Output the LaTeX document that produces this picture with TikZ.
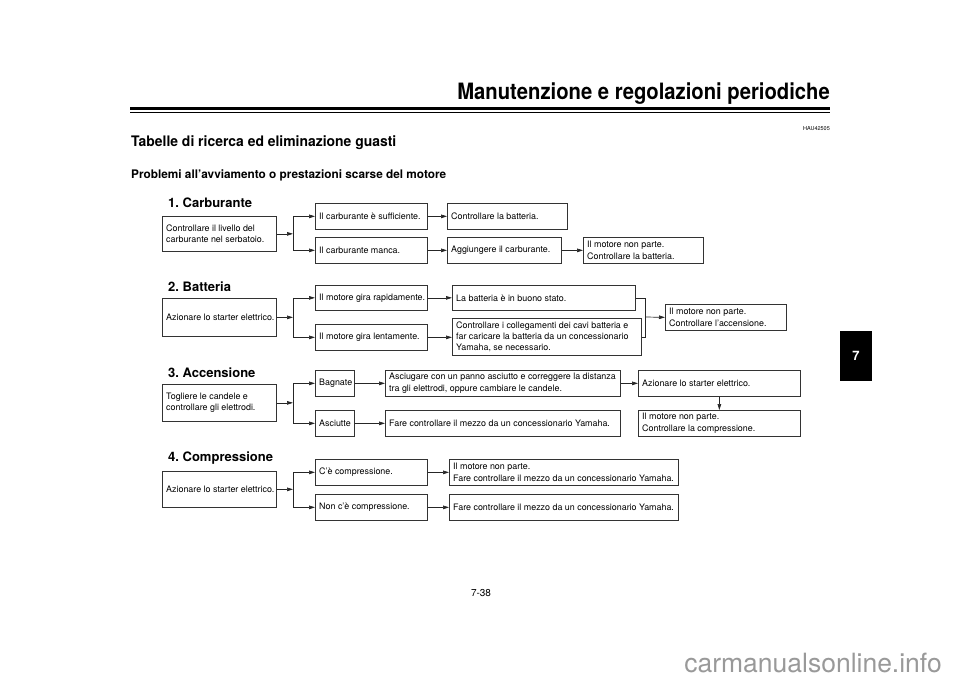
\documentclass[tikz,border=0pt]{standalone}
\usepackage{fontspec}
\setmainfont{TeX Gyre Heros}
\usetikzlibrary{arrows.meta}
\frenchspacing
\newcommand\mybox[6]{%
  \pgfmathsetmacro\bw{#4-#2}\pgfmathsetmacro\bh{#5-#3}%
  \node[box, minimum width=\bw pt, minimum height=\bh pt] (#1) at (#2,#3) {};
  \node[boxtext] (#1t) at ([xshift=4pt]#1.west) {#6};}
\begin{document}
\begin{tikzpicture}[x=1pt,y=-1pt,
  box/.style={draw=black!80, line width=0.7pt, inner sep=0pt, anchor=north west},
  boxtext/.style={anchor=west, inner sep=0pt, align=left, font=\fontsize{8.9}{11.3}\selectfont},
  arr/.style={draw=black!85, line width=0.7pt, -{Triangle[length=6pt,width=3.6pt]}},
  ln/.style={draw=black!85, line width=0.7pt},
  head/.style={anchor=west, inner sep=0pt, font=\bfseries\fontsize{13}{13}\selectfont}]
\useasboundingbox (0,0) rectangle (960,679);
\fill[white] (0,0) rectangle (960,679);
% header
\node[anchor=south east, inner sep=0pt, font=\bfseries\fontsize{22.5}{22}\selectfont] (title) at (830,104.5) {\scalebox{0.9}[1]{Manutenzione e regolazioni periodiche}};
\draw[line width=2.2pt] (130,108.5) -- (830,108.5);
\draw[line width=0.7pt] (130,112.5) -- (830,112.5);
\node[anchor=east, inner sep=0pt, font=\fontsize{5.5}{6}\selectfont] (code) at (830,129) {HAU42505};
\node[anchor=west, inner sep=0pt, font=\bfseries\fontsize{14.5}{14}\selectfont] (t1) at (131,143) {\scalebox{0.96}[1]{Tabelle di ricerca ed eliminazione guasti}};
\node[anchor=west, inner sep=0pt, font=\bfseries\fontsize{11.8}{12}\selectfont] (t2) at (131,175) {Problemi all’avviamento o prestazioni scarse del motore};
% section 1
\node[head] (h1) at (168,203) {1. Carburante};
\mybox{A1}{162}{216}{276}{251}{Controllare il livello del\\carburante nel serbatoio.}
\mybox{B1}{315}{203}{427}{229}{Il carburante è sufficiente.}
\mybox{B2}{315}{237}{427}{263}{Il carburante manca.}
\mybox{C1}{447}{203}{567}{229}{Controllare la batteria.}
\mybox{C2}{447}{237}{561}{263}{Aggiungere il carburante.}
\mybox{D2}{583}{237}{703}{263}{Il motore non parte.\\Controllare la batteria.}
\coordinate (J1) at (293,233.5);
\draw[arr] (A1.east) -- (A1.east -| J1);
\draw[ln] (B1.west -| J1) -- (B2.west -| J1);
\draw[arr] (B1.west -| J1) -- (B1.west);
\draw[arr] (B2.west -| J1) -- (B2.west);
\draw[arr] (B1.east) -- (C1.west);
\draw[arr] (B2.east) -- (C2.west);
\draw[arr] (C2.east) -- (D2.west);
% section 2
\node[head] (h2) at (168,287) {2. Batteria};
\mybox{A2}{162}{298}{276}{336}{Azionare lo starter elettrico.}
\mybox{B3}{315}{285}{427}{310}{Il motore gira rapidamente.}
\mybox{B4}{315}{324}{427}{350}{Il motore gira lentamente.}
\mybox{C3}{452}{285}{635}{310}{La batteria è in buono stato.}
\mybox{C4}{452}{318}{641}{355}{Controllare i collegamenti dei cavi batteria e\\far caricare la batteria da un concessionario\\Yamaha, se necessario.}
\mybox{D3}{665}{304}{786}{330}{Il motore non parte.\\Controllare l’accensione.}
\coordinate (J2) at (293,317);
\draw[arr] (A2.east) -- (A2.east -| J2);
\draw[ln] (B3.west -| J2) -- (B4.west -| J2);
\draw[arr] (B3.west -| J2) -- (B3.west);
\draw[arr] (B4.west -| J2) -- (B4.west);
\draw[arr] (B3.east) -- (C3.west);
\draw[arr] (B4.east) -- (B4.east -| C4.west);
\coordinate (K2) at (645,317);
\draw[ln] (C3.east) -- (C3.east -| K2) -- (C4.east -| K2) -- (C4.east);
\draw[arr] (K2) -- (D3.west);
% section 3
\node[head] (h3) at (168,373) {3. Accensione};
\mybox{A3}{162}{384}{276}{421}{Togliere le candele e\\controllare gli elettrodi.}
\mybox{B5}{315}{370}{354}{396}{Bagnate}
\mybox{B6}{315}{410}{354}{436}{Asciutte}
\mybox{C5}{385}{370}{620}{396}{Asciugare con un panno asciutto e correggere la distanza\\tra gli elettrodi, oppure cambiare le candele.}
\mybox{C6}{385}{410}{620}{436}{Fare controllare il mezzo da un concessionario Yamaha.}
\mybox{D5}{638}{370}{800}{396}{Azionare lo starter elettrico.}
\mybox{E5}{638}{410}{800}{436}{Il motore non parte.\\Controllare la compressione.}
\coordinate (J3) at (293,403);
\draw[arr] (A3.east) -- (A3.east -| J3);
\draw[ln] (B5.west -| J3) -- (B6.west -| J3);
\draw[arr] (B5.west -| J3) -- (B5.west);
\draw[arr] (B6.west -| J3) -- (B6.west);
\draw[arr] (B5.east) -- (C5.west);
\draw[arr] (B6.east) -- (C6.west);
\draw[arr] (C5.east) -- (D5.west);
\draw[arr] (D5.south) -- (E5.north);
% section 4
\node[head] (h4) at (168,458) {4. Compressione};
\mybox{A4}{162}{471}{276}{507}{Azionare lo starter elettrico.}
\mybox{B7}{315}{459}{427}{485}{C’è compressione.}
\mybox{B8}{315}{494}{427}{520}{Non c’è compressione.}
\mybox{C7}{449}{459}{678}{485}{Il motore non parte.\\Fare controllare il mezzo da un concessionario Yamaha.}
\mybox{C8}{449}{494}{678}{520}{Fare controllare il mezzo da un concessionario Yamaha.}
\coordinate (J4) at (293,489);
\draw[arr] (A4.east) -- (A4.east -| J4);
\draw[ln] (B7.west -| J4) -- (B8.west -| J4);
\draw[arr] (B7.west -| J4) -- (B7.west);
\draw[arr] (B8.west -| J4) -- (B8.west);
\draw[arr] (B7.east) -- (C7.west);
\draw[arr] (B8.east) -- (C8.west);
% tab and page number
\fill[black] (840,331) rectangle (872,381);
\node[white, inner sep=0pt, font=\bfseries\fontsize{13}{13}\selectfont] (tab) at (856,356) {7};
\node[inner sep=0pt, font=\fontsize{10}{10}\selectfont] (pg) at (481,593) {7-38};
\node[anchor=east, inner sep=0pt, text=black!40, font=\fontsize{26.5}{27}\selectfont] (wm) at (942,663) {carmanualsonline.info};
\end{tikzpicture}
\end{document}
